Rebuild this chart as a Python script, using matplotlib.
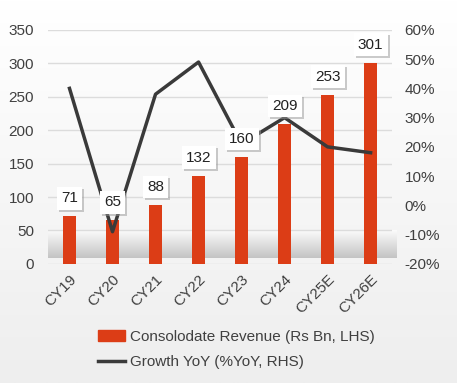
import numpy as np
import matplotlib.pyplot as plt
import matplotlib.patheffects as pe
from matplotlib.colors import LinearSegmentedColormap

years = ['CY19', 'CY20', 'CY21', 'CY22', 'CY23', 'CY24', 'CY25E', 'CY26E']
revenue = [71, 65, 88, 132, 160, 209, 253, 301]
growth = [40, -9, 38, 49, 21, 30, 20, 18]

bar_color = '#dc3d16'
line_color = '#3a3a3a'
txt_color = '#404040'

plt.rcParams['font.family'] = ['Liberation Sans', 'DejaVu Sans']
plt.rcParams['font.size'] = 11

fig = plt.figure(figsize=(4.57, 3.83), dpi=100)

# soft background, white at top, light grey at bottom
bg = fig.add_axes([0, 0, 1, 1], zorder=-10)
grad = np.linspace(0, 1, 256).reshape(-1, 1)
bg_cmap = LinearSegmentedColormap.from_list('bg', ['#ffffff', '#eeeeee'])
bg.imshow(grad, cmap=bg_cmap, aspect='auto', extent=[0, 1, 0, 1])
bg.set_axis_off()

ax = fig.add_axes([0.105, 0.311, 0.753, 0.611])
ax.patch.set_alpha(0)
x = np.arange(len(years))

# grey shading band near the bottom of the plot
band_cmap = LinearSegmentedColormap.from_list('band', ['#c4c4c4', '#fbfbfb'])
ax.imshow(np.linspace(0, 1, 256).reshape(-1, 1), cmap=band_cmap, aspect='auto',
          extent=[-0.5, 7.6, 9, 50], origin='lower', zorder=0, clip_on=False)

ax.bar(x, revenue, width=0.32, color=bar_color, zorder=2)
ax.set_xlim(-0.5, 7.5)
ax.set_ylim(0, 350)
ax.set_yticks(np.arange(0, 351, 50))
ax.yaxis.grid(True, color='#dcdcdc', lw=1)
ax.set_axisbelow(True)
ax.set_xticks(x)
ax.set_xticklabels(years, rotation=45, ha='right', rotation_mode='anchor')
for s in ax.spines.values():
    s.set_visible(False)
ax.tick_params(length=0, colors=txt_color, labelsize=11)
ax.tick_params(axis='y', pad=10)
ax.tick_params(axis='x', pad=6)

ax2 = ax.twinx()
ax2.plot(x, growth, color=line_color, lw=2.5, zorder=3)
ax2.set_ylim(-20, 60)
ax2.set_yticks(np.arange(-20, 61, 10))
ax2.set_yticklabels(['{:d}%'.format(v) for v in range(-20, 61, 10)])
for s in ax2.spines.values():
    s.set_visible(False)
ax2.tick_params(length=0, colors=txt_color, labelsize=11, pad=9)

# value boxes above each bar
for xi, v in zip(x, revenue):
    t = ax2.annotate(str(v), xy=(xi, v), xycoords=ax.transData,
                     xytext=(0, 13), textcoords='offset points',
                     ha='center', va='center', fontsize=11, color='#222222',
                     zorder=5,
                     bbox=dict(boxstyle='square,pad=0.28', fc='white', ec='none'))
    t.get_bbox_patch().set_path_effects(
        [pe.SimplePatchShadow(offset=(1.5, -1.5), shadow_rgbFace='#999999', alpha=0.5),
         pe.Normal()])

h1 = plt.Rectangle((0, 0), 1, 1, color=bar_color)
h2 = plt.Line2D([0], [0], color=line_color, lw=2.5)
fig.legend([h1, h2], ['Consolodate Revenue (Rs Bn, LHS)', 'Growth YoY (%YoY, RHS)'],
           loc='upper left', bbox_to_anchor=(0.2, 0.155), frameon=False,
           fontsize=11, labelcolor=txt_color, handlelength=1.8, handletextpad=0.3,
           labelspacing=0.75, borderaxespad=0)

plt.savefig('out.png', dpi=100)
